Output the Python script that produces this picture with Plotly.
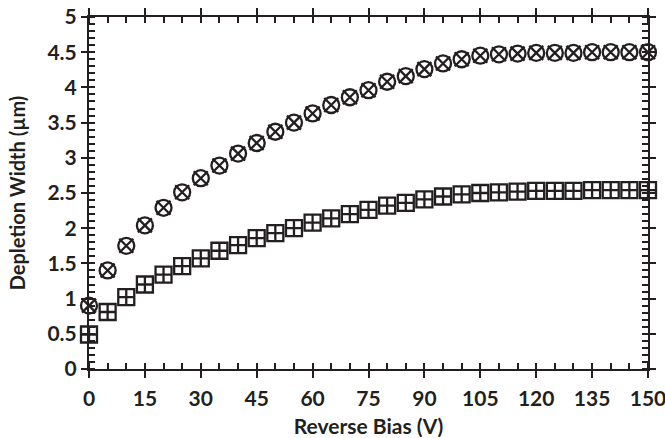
import plotly.graph_objects as go

bias_v = [0, 5, 10, 15, 20, 25, 30, 35, 40, 45, 50, 55, 60, 65, 70, 75, 80, 85, 90, 95,
          100, 105, 110, 115, 120, 125, 130, 135, 140, 145, 150]
width_circle = [0.90, 1.40, 1.75, 2.04, 2.29, 2.51, 2.71, 2.89, 3.06, 3.21, 3.37, 3.50, 3.63, 3.75, 3.86,
                3.96, 4.08, 4.16, 4.26, 4.34, 4.40, 4.45, 4.47, 4.48, 4.49, 4.49, 4.49, 4.50, 4.50, 4.50, 4.50]
width_square = [0.49, 0.81, 1.02, 1.20, 1.34, 1.46, 1.57, 1.68, 1.76, 1.86, 1.93, 2.00, 2.08, 2.14, 2.20,
                2.26, 2.32, 2.36, 2.41, 2.45, 2.48, 2.50, 2.51, 2.52, 2.53, 2.53, 2.53, 2.54, 2.54, 2.54, 2.54]
x_ticks = [0, 15, 30, 45, 60, 75, 90, 105, 120, 135, 150]
y_ticks = [0, 0.5, 1, 1.5, 2, 2.5, 3, 3.5, 4, 4.5, 5]
y_ticklabels = ["0", "0.5", "1", "1.5", "2", "2.5", "3", "3.5", "4", "4.5", "5"]

INK = "#231f20"
FONT = "Lato"

fig = go.Figure()
fig.add_trace(go.Scatter(x=bias_v, y=width_square, mode="markers", cliponaxis=False,
                         marker=dict(symbol="square-cross-open", size=16, color=INK,
                                     line=dict(width=2.3, color=INK)),
                         showlegend=False))
fig.add_trace(go.Scatter(x=bias_v, y=width_circle, mode="markers", cliponaxis=False,
                         marker=dict(symbol="circle-open", size=16, color=INK,
                                     line=dict(width=2.3, color=INK)),
                         showlegend=False))
fig.add_trace(go.Scatter(x=bias_v, y=width_circle, mode="markers", cliponaxis=False,
                         marker=dict(symbol="x-thin-open", size=14, color=INK,
                                     line=dict(width=2.3, color=INK)),
                         showlegend=False))
# helper trace for the overlay axes (inside halves of major ticks)
fig.add_trace(go.Scatter(x=[None], y=[None], xaxis="x2", yaxis="y2", showlegend=False,
                         hoverinfo="skip"))

common = dict(showline=True, linewidth=2, linecolor=INK, showgrid=False, zeroline=False,
              mirror="ticks", tickwidth=2, tickcolor=INK, automargin=False)

fig.update_layout(
    width=665, height=438,
    margin=dict(l=89, r=17, t=17, b=69),
    paper_bgcolor="white", plot_bgcolor="white",
    font=dict(family=FONT, size=21, color=INK),
    xaxis=dict(range=[0, 150], tickmode="array", tickvals=x_ticks, ticks="outside", ticklen=7,
               ticklabeloverflow="allow", ticklabelstandoff=3,
               tickfont=dict(family=FONT, size=21, color=INK, weight="bold"),
               minor=dict(ticks="inside", dtick=5, tick0=0, ticklen=6, tickwidth=1.5, tickcolor=INK),
               title=dict(text="Reverse Bias (V)", standoff=10,
                          font=dict(family=FONT, size=21, color=INK, weight="bold")),
               **common),
    yaxis=dict(range=[0, 5], tickmode="array", tickvals=y_ticks, ticktext=y_ticklabels,
               ticks="outside", ticklen=6, ticklabeloverflow="allow",
               tickfont=dict(family=FONT, size=21, color=INK, weight="bold"),
               minor=dict(ticks="inside", dtick=0.1, tick0=0, ticklen=6, tickwidth=1.5, tickcolor=INK),
               title=dict(text="Depletion Width (µm)", standoff=16,
                          font=dict(family=FONT, size=20, color=INK, weight="bold")),
               **common),
    xaxis2=dict(overlaying="x", range=[0, 150], tickmode="array", tickvals=x_ticks,
                ticks="inside", ticklen=5, showticklabels=False, **common),
    yaxis2=dict(overlaying="y", range=[0, 5], tickmode="array", tickvals=y_ticks,
                ticks="inside", ticklen=6, showticklabels=False, **common),
)

fig.write_html("out.html", config={"displayModeBar": False},
               post_script="document.body.style.margin='0';")
